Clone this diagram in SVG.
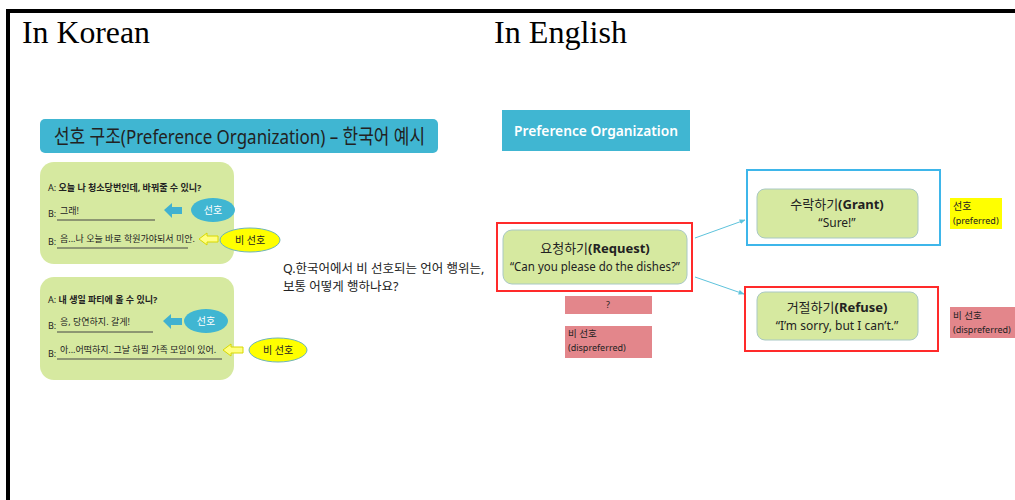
<svg xmlns="http://www.w3.org/2000/svg" width="1015" height="500" viewBox="0 0 1015 500">
<defs>
<style>
.hdr{font-family:"Liberation Serif",serif;font-size:31px;fill:#000}
.k{font-family:"Noto Sans","Noto Sans CJK KR",sans-serif;fill:#222}
.green{fill:#d6e9a0;stroke:#a9c8c4;stroke-width:1}
.pink{fill:#e3868b}
.conn{stroke:#5ec3dc;stroke-width:1;fill:none}
.ul{stroke:#444;stroke-width:1}
</style>
<marker id="ah" viewBox="0 0 10 10" refX="9" refY="5" markerWidth="6" markerHeight="6" orient="auto">
<path d="M0,1 L10,5 L0,9 z" fill="#5ec3dc"/>
</marker>
</defs>
<rect width="1015" height="500" fill="#fff"/>
<path d="M8,500 V11 H1015" fill="none" stroke="#000" stroke-width="4"/>
<text class="hdr" x="22" y="43" textLength="128" lengthAdjust="spacingAndGlyphs">In Korean</text>
<text class="hdr" x="494" y="43" textLength="133" lengthAdjust="spacingAndGlyphs">In English</text>

<g id="korean-title">
<rect x="40" y="119" width="398" height="34" rx="5" fill="#40b6d2"/>
<text class="k" x="54" y="144" font-size="20.5" textLength="371" lengthAdjust="spacingAndGlyphs">선호 구조(Preference Organization) – 한국어 예시</text>
</g>

<g id="dialog1">
<rect x="40" y="162" width="194" height="102" rx="14" fill="#d6e9a0"/>
<text class="k" x="48" y="191" font-size="9">A: <tspan font-weight="bold">오늘 나 청소당번인데, 바꿔줄 수 있니?</tspan></text>
<text class="k" x="48" y="217" font-size="9">B: <tspan x="60" y="214">그래!</tspan></text>
<line class="ul" x1="57" y1="220" x2="155" y2="220"/>
<text class="k" x="48" y="245" font-size="9">B: <tspan x="60" y="242">음...나 오늘 바로 학원가야되서 미안.</tspan></text>
<line class="ul" x1="57" y1="248" x2="188" y2="248"/>
<path d="M164,210 L172,203 V207 H182 V214 H172 V218 Z" fill="#40b1d0"/>
<ellipse cx="213" cy="210" rx="22" ry="12" fill="#40b6d2"/>
<text class="k" x="213" y="214" font-size="10" style="fill:#fff" text-anchor="middle">선호</text>
<path d="M199,239 L207,233 V236 H218 V242 H207 V245 Z" fill="#ffff80" stroke="#d8d800" stroke-width="1"/>
<ellipse cx="250" cy="240" rx="30" ry="12" fill="#ffff00" stroke="#6fb5b5" stroke-width="1"/>
<text class="k" x="250" y="244" font-size="10" text-anchor="middle">비 선호</text>
</g>

<g id="dialog2">
<rect x="40" y="277" width="194" height="103" rx="14" fill="#d6e9a0"/>
<text class="k" x="48" y="303" font-size="9">A: <tspan font-weight="bold">내 생일 파티에 올 수 있니?</tspan></text>
<text class="k" x="48" y="329" font-size="9">B: <tspan x="60" y="325">응, 당연하지. 갈게!</tspan></text>
<line class="ul" x1="57" y1="332" x2="153" y2="332"/>
<text class="k" x="48" y="357" font-size="9">B: <tspan x="60" y="353">아...어떡하지. 그날 하필 가족 모임이 있어.</tspan></text>
<line class="ul" x1="57" y1="359" x2="222" y2="359"/>
<path d="M163,321 L171,314 V318 H182 V325 H171 V329 Z" fill="#40b1d0"/>
<ellipse cx="206" cy="321" rx="22" ry="12" fill="#40b6d2"/>
<text class="k" x="206" y="325" font-size="10" style="fill:#fff" text-anchor="middle">선호</text>
<path d="M223,350 L231,344 V347 H243 V353 H231 V356 Z" fill="#ffff80" stroke="#d8d800" stroke-width="1"/>
<ellipse cx="278" cy="350" rx="29" ry="12" fill="#ffff00" stroke="#6fb5b5" stroke-width="1"/>
<text class="k" x="278" y="354" font-size="10" text-anchor="middle">비 선호</text>
</g>

<g id="question">
<text class="k" x="283" y="273" font-size="12.5">Q.한국어에서 비 선호되는 언어 행위는,</text>
<text class="k" x="283" y="291" font-size="12.5">보통 어떻게 행하나요?</text>
</g>

<g id="english-title">
<rect x="502" y="110" width="188" height="41" fill="#40b6d2"/>
<text class="k" x="596" y="136" font-size="14" font-weight="600" style="fill:#fff" text-anchor="middle" textLength="164" lengthAdjust="spacingAndGlyphs">Preference Organization</text>
</g>

<g id="request">
<rect x="497" y="223" width="195" height="68" fill="none" stroke="#ff2a2a" stroke-width="2"/>
<rect class="green" x="503" y="230" width="184" height="54" rx="9"/>
<text class="k" x="595" y="253" font-size="13" text-anchor="middle">요청하기<tspan font-weight="bold">(Request)</tspan></text>
<text class="k" x="595" y="271" font-size="12" text-anchor="middle" textLength="170" lengthAdjust="spacingAndGlyphs">“Can you please do the dishes?”</text>
</g>

<g id="q-label">
<rect class="pink" x="565" y="296" width="87" height="18"/>
<text class="k" x="608" y="308" font-size="9" text-anchor="middle">?</text>
</g>

<g id="dispreferred-left">
<rect class="pink" x="565" y="326" width="87" height="32"/>
<text class="k" x="568" y="337" font-size="9.5">비 선호</text>
<text class="k" x="568" y="351" font-size="9">(dispreferred)</text>
</g>

<g id="connectors">
<line class="conn" x1="695" y1="238" x2="745" y2="220" marker-end="url(#ah)"/>
<line class="conn" x1="695" y1="277" x2="744" y2="294" marker-end="url(#ah)"/>
</g>

<g id="grant">
<rect x="747" y="170" width="193" height="75" fill="none" stroke="#3eb6ea" stroke-width="2"/>
<rect class="green" x="757" y="189" width="161" height="49" rx="8"/>
<text class="k" x="837" y="209" font-size="13" text-anchor="middle">수락하기<tspan font-weight="bold">(Grant)</tspan></text>
<text class="k" x="837" y="227" font-size="12" text-anchor="middle">“Sure!”</text>
</g>

<g id="preferred-label">
<rect x="950" y="198" width="52" height="31" fill="#ffff00"/>
<text class="k" x="953" y="210" font-size="10">선호</text>
<text class="k" x="953" y="224" font-size="9">(preferred)</text>
</g>

<g id="refuse">
<rect x="745" y="287" width="193" height="64" fill="none" stroke="#ff2a2a" stroke-width="2"/>
<rect class="green" x="757" y="292" width="161" height="48" rx="8"/>
<text class="k" x="837" y="312" font-size="13" text-anchor="middle">거절하기<tspan font-weight="bold">(Refuse)</tspan></text>
<text class="k" x="837" y="330" font-size="12" text-anchor="middle">“I’m sorry, but I can’t.”</text>
</g>

<g id="dispreferred-right">
<rect class="pink" x="950" y="307" width="65" height="31"/>
<text class="k" x="953" y="319" font-size="9.5">비 선호</text>
<text class="k" x="953" y="333" font-size="9">(dispreferred)</text>
</g>
</svg>
